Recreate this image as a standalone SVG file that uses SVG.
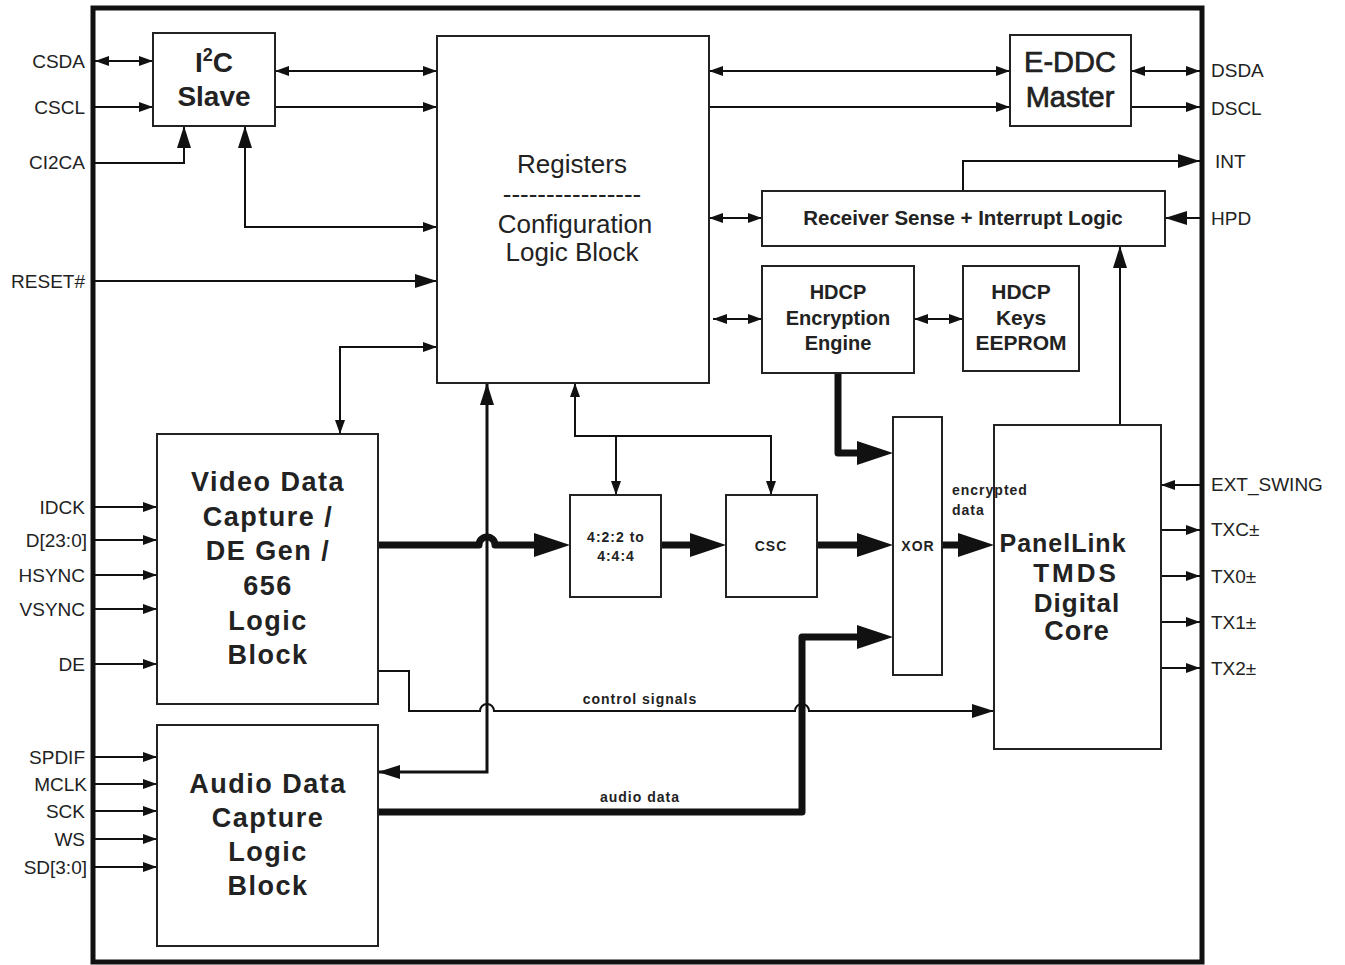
<svg xmlns="http://www.w3.org/2000/svg" width="1345" height="965" viewBox="0 0 1345 965">
<style>
text{font-family:"Liberation Sans",Arial,sans-serif;fill:#222}
.pin{font-size:19px;fill:#333}
.l{text-anchor:end}
.blk{fill:#fff;stroke:#222;stroke-width:2}
.t{text-anchor:middle}
.b{font-weight:bold}
.w{fill:none;stroke:#111;stroke-width:2}
.w3{fill:none;stroke:#111;stroke-width:3}
.k{fill:none;stroke:#111;stroke-width:7;stroke-linecap:round;stroke-linejoin:round}
.sm{font-size:14px;font-weight:bold;letter-spacing:1px}
</style>
<defs>
<marker id="a" viewBox="0 0 14 10" refX="14" refY="5" markerWidth="14" markerHeight="10" markerUnits="userSpaceOnUse" orient="auto-start-reverse"><path d="M0,0L14,5L0,10z" fill="#111"/></marker>
<marker id="m" viewBox="0 0 22 14" refX="22" refY="7" markerWidth="22" markerHeight="14" markerUnits="userSpaceOnUse" orient="auto-start-reverse"><path d="M0,0L22,7L0,14z" fill="#111"/></marker>
<marker id="g" viewBox="0 0 36 24" refX="6" refY="12" markerWidth="36" markerHeight="24" markerUnits="userSpaceOnUse" orient="auto"><path d="M0,0L36,12L0,24z" fill="#111"/></marker>
</defs>
<rect x="93" y="8" width="1109" height="954" fill="none" stroke="#111" stroke-width="5"/>

<g id="connectors">
<path class="w" d="M95,61H153" marker-start="url(#a)" marker-end="url(#a)"/>
<path class="w" d="M95,107H153" marker-end="url(#a)"/>
<path class="w" d="M95,163H184V126" marker-end="url(#m)"/>
<path class="w" d="M245,126V227H437" marker-start="url(#m)" marker-end="url(#a)"/>
<path class="w" d="M275,71H437" marker-start="url(#a)" marker-end="url(#a)"/>
<path class="w" d="M275,107H437" marker-end="url(#a)"/>
<path class="w" d="M95,281H437" marker-end="url(#m)"/>
<path class="w" d="M709,71H1010" marker-start="url(#a)" marker-end="url(#a)"/>
<path class="w" d="M709,107H1010" marker-end="url(#a)"/>
<path class="w" d="M1131,71H1200" marker-start="url(#a)" marker-end="url(#a)"/>
<path class="w" d="M1131,107H1200" marker-end="url(#a)"/>
<path class="w" d="M963,191V161H1200" marker-end="url(#m)"/>
<path class="w" d="M1200,218H1165" marker-end="url(#m)"/>
<path class="w" d="M709,218H762" marker-start="url(#a)" marker-end="url(#a)"/>
<path class="w" d="M713,319H762" marker-start="url(#a)" marker-end="url(#a)"/>
<path class="w" d="M914,319H963" marker-start="url(#a)" marker-end="url(#a)"/>
<path class="w" d="M437,347H340V434" marker-start="url(#a)" marker-end="url(#a)"/>
<path class="w" d="M575,383V436H771V495" marker-start="url(#a)" marker-end="url(#a)"/>
<path class="w" d="M616,436V495" marker-end="url(#a)"/>
<path class="w3" d="M487,383V772H378" marker-start="url(#m)" marker-end="url(#m)"/>
<path class="w" d="M1120,425V246" marker-end="url(#m)"/>
<path class="w" d="M1200,485H1161" marker-end="url(#a)"/>
<path class="w" d="M1161,530H1200" marker-end="url(#a)"/>
<path class="w" d="M1161,576H1200" marker-end="url(#a)"/>
<path class="w" d="M1161,622H1200" marker-end="url(#a)"/>
<path class="w" d="M1161,668H1200" marker-end="url(#a)"/>
<path class="w" d="M95,507H157" marker-end="url(#a)"/>
<path class="w" d="M95,540H157" marker-end="url(#a)"/>
<path class="w" d="M95,575H157" marker-end="url(#a)"/>
<path class="w" d="M95,609H157" marker-end="url(#a)"/>
<path class="w" d="M95,664H157" marker-end="url(#a)"/>
<path class="w" d="M95,757H157" marker-end="url(#a)"/>
<path class="w" d="M95,784H157" marker-end="url(#a)"/>
<path class="w" d="M95,811H157" marker-end="url(#a)"/>
<path class="w" d="M95,839H157" marker-end="url(#a)"/>
<path class="w" d="M95,867H157" marker-end="url(#a)"/>
<path class="w" d="M378,671H409V711H480A7,7 0 0 1 494,711H795A7,7 0 0 1 809,711H994" marker-end="url(#m)"/>
<path class="k" d="M378,545H479A8,8 0 0 1 495,545H540" marker-end="url(#g)"/>
<path class="k" d="M661,545H696" marker-end="url(#g)"/>
<path class="k" d="M817,545H863" marker-end="url(#g)"/>
<path class="k" d="M942,545H964" marker-end="url(#g)"/>
<path class="k" d="M838,373V453H863" marker-end="url(#g)"/>
<path class="k" d="M378,812H802V637H863" marker-end="url(#g)"/>
</g>

<g id="i2c">
<rect class="blk" x="153" y="33" width="122" height="93"/>
<text class="t b" x="214" y="72" font-size="28">I<tspan font-size="18" dy="-11">2</tspan><tspan dy="11">C</tspan></text>
<text class="t b" x="214" y="106" font-size="28">Slave</text>
</g>
<g id="registers">
<rect class="blk" x="437" y="36" width="272" height="347"/>
<text class="t" x="572" y="173" font-size="26">Registers</text>
<text class="t" x="572" y="203" font-size="26">----------------</text>
<text class="t" x="575" y="233" font-size="26">Configuration</text>
<text class="t" x="572" y="261" font-size="26">Logic Block</text>
</g>
<g id="eddc">
<rect class="blk" x="1010" y="35" width="121" height="91"/>
<text class="t" x="1070" y="72" font-size="29" stroke="#222" stroke-width="0.7">E-DDC</text>
<text class="t" x="1070" y="107" font-size="29" stroke="#222" stroke-width="0.7">Master</text>
</g>
<g id="rsense">
<rect class="blk" x="762" y="191" width="403" height="55"/>
<text class="t b" x="963" y="225" font-size="20.5">Receiver Sense + Interrupt Logic</text>
</g>
<g id="hdcpenc">
<rect class="blk" x="762" y="266" width="152" height="107"/>
<text class="t b" x="838" y="299" font-size="20">HDCP</text>
<text class="t b" x="838" y="325" font-size="20">Encryption</text>
<text class="t b" x="838" y="350" font-size="20">Engine</text>
</g>
<g id="hdcpkeys">
<rect class="blk" x="963" y="266" width="116" height="105"/>
<text class="t b" x="1021" y="299" font-size="21">HDCP</text>
<text class="t b" x="1021" y="325" font-size="21">Keys</text>
<text class="t b" x="1021" y="350" font-size="21">EEPROM</text>
</g>
<g id="video">
<rect class="blk" x="157" y="434" width="221" height="270"/>
<g class="t b" font-size="27" letter-spacing="1.5">
<text x="268" y="491">Video Data</text>
<text x="268" y="526">Capture /</text>
<text x="268" y="560">DE Gen /</text>
<text x="268" y="595">656</text>
<text x="268" y="630">Logic</text>
<text x="268" y="664">Block</text>
</g>
</g>
<g id="audio">
<rect class="blk" x="157" y="725" width="221" height="221"/>
<g class="t b" font-size="27" letter-spacing="1.5">
<text x="268" y="793">Audio Data</text>
<text x="268" y="827">Capture</text>
<text x="268" y="861">Logic</text>
<text x="268" y="895">Block</text>
</g>
</g>
<g id="conv">
<rect class="blk" x="570" y="495" width="91" height="102"/>
<text class="sm t" x="616" y="542">4:2:2 to</text>
<text class="sm t" x="616" y="561">4:4:4</text>
</g>
<g id="csc">
<rect class="blk" x="726" y="495" width="91" height="102"/>
<text class="sm t" x="771" y="551" letter-spacing="2">CSC</text>
</g>
<g id="xor">
<rect class="blk" x="893" y="417" width="49" height="258"/>
<text class="sm t" x="918" y="551" letter-spacing="2">XOR</text>
</g>
<g id="panellink">
<rect class="blk" x="994" y="425" width="167" height="324"/>
<g class="t b">
<text x="1063" y="552" font-size="25" letter-spacing="1">PanelLink</text>
<text x="1076" y="582" font-size="26" letter-spacing="3">TMDS</text>
<text x="1077" y="612" font-size="26" letter-spacing="1">Digital</text>
<text x="1077" y="640" font-size="27" letter-spacing="1">Core</text>
</g>
</g>

<g id="connector-labels">
<text class="sm t" x="640" y="704">control signals</text>
<text class="sm t" x="640" y="802">audio data</text>
<text class="sm" x="952" y="495">encrypted</text>
<text class="sm" x="952" y="515">data</text>
</g>

<g id="pins-left" class="pin l">
<text x="85" y="68">CSDA</text>
<text x="85" y="114">CSCL</text>
<text x="85" y="169">CI2CA</text>
<text x="85" y="288">RESET#</text>
<text x="85" y="514">IDCK</text>
<text x="87" y="547">D[23:0]</text>
<text x="85" y="582">HSYNC</text>
<text x="85" y="616">VSYNC</text>
<text x="85" y="671">DE</text>
<text x="85" y="764">SPDIF</text>
<text x="87" y="791">MCLK</text>
<text x="85" y="818">SCK</text>
<text x="85" y="846">WS</text>
<text x="87" y="874">SD[3:0]</text>
</g>
<g id="pins-right" class="pin">
<text x="1211" y="77">DSDA</text>
<text x="1211" y="115">DSCL</text>
<text x="1215" y="168">INT</text>
<text x="1211" y="225">HPD</text>
<text x="1211" y="491">EXT_SWING</text>
<text x="1211" y="536">TXC±</text>
<text x="1211" y="583">TX0±</text>
<text x="1211" y="629">TX1±</text>
<text x="1211" y="675">TX2±</text>
</g>
</svg>
